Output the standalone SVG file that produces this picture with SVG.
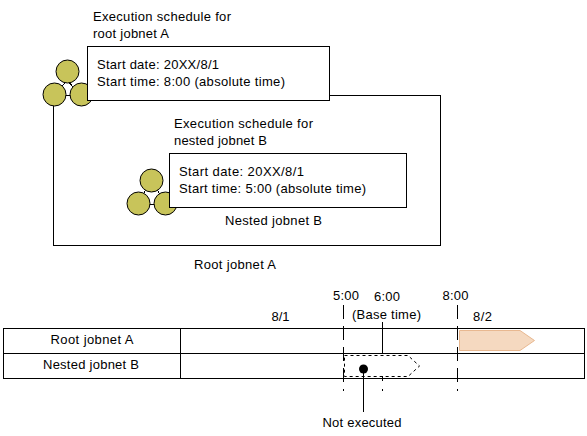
<svg xmlns="http://www.w3.org/2000/svg" width="587" height="436" viewBox="0 0 587 436">
<style>
text{font-family:"Liberation Sans",Arial,sans-serif;font-size:13px;fill:#000}
.l{fill:none;stroke:#000;stroke-width:1;shape-rendering:crispEdges}
.b{fill:#fff;stroke:#000;stroke-width:1;shape-rendering:crispEdges}
.c{fill:#c8c45a;stroke:#000;stroke-width:1}
.d{fill:none;stroke:#000;stroke-width:1;stroke-dasharray:14 7;shape-rendering:crispEdges}
</style>
<rect width="587" height="436" fill="#fff"/>
<g id="root-jobnet-a">
<rect class="b" x="53.500" y="95.500" width="387" height="150"/>
<path class="l" d="M67 80L55 95M67 80L80 95M55 95H80"/>
<circle class="c" cx="67.500" cy="71.500" r="11.500"/>
<circle class="c" cx="54.500" cy="94.500" r="11.500"/>
<circle class="c" cx="81.500" cy="94.500" r="11.500"/>
<text x="194" y="269" textLength="82">Root jobnet A</text>
</g>
<g id="schedule-a">
<text x="93" y="21" textLength="138">Execution schedule for</text>
<text x="93" y="38" textLength="76">root jobnet A</text>
<rect class="b" x="87.500" y="46.500" width="242" height="54"/>
<text x="97" y="69" textLength="122">Start date: 20XX/8/1</text>
<text x="97" y="86" textLength="188">Start time: 8:00 (absolute time)</text>
</g>
<g id="nested-jobnet-b">
<path class="l" d="M151 180L138 204M151 180L166 204M138 204H166"/>
<circle class="c" cx="151.500" cy="180.500" r="11.500"/>
<circle class="c" cx="138.500" cy="203.500" r="11.500"/>
<circle class="c" cx="165.500" cy="203.500" r="11.500"/>
<text x="225" y="225" textLength="97">Nested jobnet B</text>
</g>
<g id="schedule-b">
<text x="174" y="128" textLength="139">Execution schedule for</text>
<text x="174" y="145" textLength="93">nested jobnet B</text>
<rect class="b" x="169.500" y="153.500" width="237" height="54"/>
<text x="179" y="176" textLength="125">Start date: 20XX/8/1</text>
<text x="179" y="193" textLength="187">Start time: 5:00 (absolute time)</text>
</g>
<g id="timeline">
<rect class="l" x="3.500" y="328.500" width="581" height="50"/>
<path class="l" d="M3 353.500H585M180.500 328V378"/>
<text x="50.500" y="344" textLength="83">Root jobnet A</text>
<text x="43" y="369" textLength="96">Nested jobnet B</text>
<text x="271.500" y="321" textLength="18">8/1</text>
<text x="473" y="321" textLength="19">8/2</text>
<text x="333" y="300" textLength="26">5:00</text>
<text x="374" y="301" textLength="26">6:00</text>
<text x="442.500" y="300" textLength="26">8:00</text>
<text x="352" y="319" textLength="69">(Base time)</text>
<text x="322.500" y="427" textLength="79">Not executed</text>
</g>
<g id="bars">
<path d="M459.500 330.500H520L534.500 340.500L520 350.500H459.500Z" fill="#f5d9c0" stroke="#e8b890"/>
<path d="M344.500 355.500H408L419.500 366L408 376.500H344.500Z" fill="none" stroke="#000" stroke-dasharray="3 3"/>
</g>
<g id="connectors">
<path class="d" d="M343.500 305V391"/>
<path class="d" d="M457.500 305V391"/>
<path class="l" d="M382.500 322V354"/>
<path class="l" d="M382.500 376V381M382.500 389V391"/>
<path class="l" d="M363.500 369V412"/>
<circle cx="363.500" cy="369" r="4.500" fill="#000"/>
</g>
</svg>
